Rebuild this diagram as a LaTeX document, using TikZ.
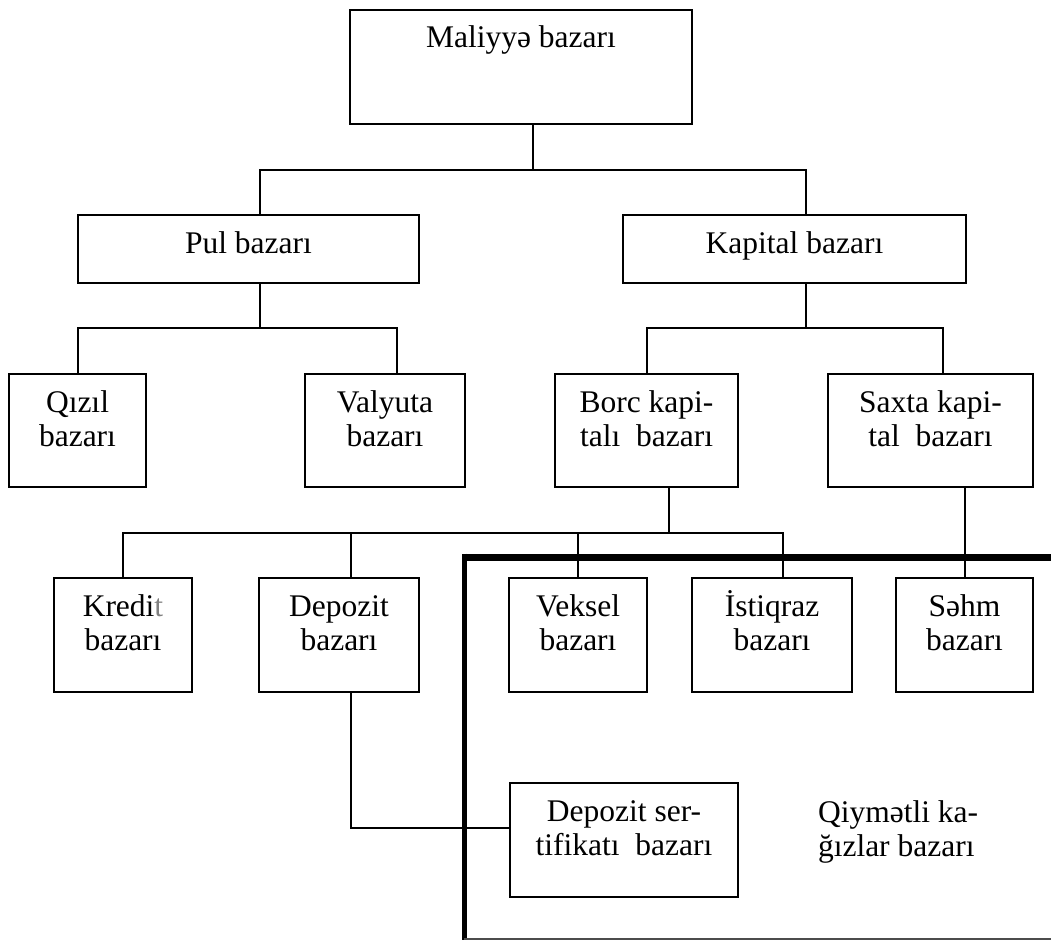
\documentclass[tikz,border=0pt]{standalone}
\usepackage{fontspec}
\setmainfont{Liberation Serif}
% fixed first-line height so every label hangs from the same point
\newcommand\capline{\rule{0pt}{30pt}}
\tikzset{
  box/.style={draw, line width=2pt, inner sep=0pt, outer sep=0pt},
  conn/.style={draw, line width=2pt},
  txt/.style={inner sep=0pt, outer sep=0pt, anchor=north, align=center,
              font=\fontsize{31.5pt}{34pt}\selectfont},
  frame/.style={draw, black},
}
\begin{document}
\begin{tikzpicture}[x=1pt,y=-1pt]
\useasboundingbox (0,0) rectangle (1051,940);

% ---- boxes ----
\node[box, minimum width=342pt, minimum height=114pt] (M) at (521,67) {};
\node[txt] (Mt) at ([yshift=-7pt]M.north) {\capline Maliyyə bazarı};

\node[box, minimum width=341pt, minimum height=68pt] (pul) at (248.5,249) {};
\node[txt] (pult) at ([yshift=-8pt]pul.north) {\capline Pul bazarı};
\node[box, minimum width=343pt, minimum height=68pt] (kap) at (794.5,249) {};
\node[txt] (kapt) at ([yshift=-8pt]kap.north) {\capline Kapital bazarı};

\node[box, minimum width=137pt, minimum height=113pt] (qiz) at (77.5,430.5) {};
\node[txt] (qizt) at ([yshift=-8pt]qiz.north) {\capline Qızıl\\bazarı};
\node[box, minimum width=160pt, minimum height=113pt] (val) at (385,430.5) {};
\node[txt] (valt) at ([yshift=-8pt]val.north) {\capline Valyuta\\bazarı};
\node[box, minimum width=183pt, minimum height=113pt] (borc) at (646.5,430.5) {};
\node[txt] (borct) at ([yshift=-8pt]borc.north) {\capline Borc kapi-\\talı~ bazarı};
\node[box, minimum width=205pt, minimum height=113pt] (sax) at (930.5,430.5) {};
\node[txt] (saxt) at ([yshift=-8pt]sax.north) {\capline Saxta kapi-\\tal~ bazarı};

\node[box, minimum width=138pt, minimum height=114pt] (kre) at (123,635) {};
\node[txt] (kret) at ([yshift=-8pt]kre.north) {\capline Kredi\textcolor{black!50}{t}\\bazarı};
\node[box, minimum width=160pt, minimum height=114pt] (dep) at (339,635) {};
\node[txt] (dept) at ([yshift=-8pt]dep.north) {\capline Depozit\\bazarı};
\node[box, minimum width=138pt, minimum height=114pt] (vek) at (578,635) {};
\node[txt] (vekt) at ([yshift=-8pt]vek.north) {\capline Veksel\\bazarı};
\node[box, minimum width=160pt, minimum height=114pt] (ist) at (772,635) {};
\node[txt] (istt) at ([yshift=-8pt]ist.north) {\capline İstiqraz\\bazarı};
\node[box, minimum width=137pt, minimum height=114pt] (sehm) at (964.5,635) {};
\node[txt] (sehmt) at ([yshift=-8pt]sehm.north) {\capline Səhm\\bazarı};

\node[box, minimum width=228pt, minimum height=114pt] (dsert) at (624,840) {};
\node[txt] (dsertt) at ([yshift=-8pt]dsert.north) {\capline Depozit ser-\\tifikatı~ bazarı};

\node[txt, anchor=north west, align=left] (qk) at (818,792) {\capline Qiymətli ka-\\ğızlar bazarı};

% ---- securities market frame ----
\draw[frame, line width=7pt] (462,557) -- (1051,557);
\draw[frame, line width=5pt] (464.5,553.5) -- (464.5,940);
\draw[frame, black!70, line width=2pt] (464,938.5) -- (1051,938.5);

% ---- junction points of the tree ----
\coordinate (busA) at (533,170);
\coordinate (busB) at (260,328);
\coordinate (busC) at (806,328);
\coordinate (busD) at (669,533);
\coordinate (depTop) at ([xshift=12pt]dep.north);

% ---- connectors ----
\draw[conn] (M.south -| busA) -- (busA);
\draw[conn] ([xshift=11.5pt]pul.north) |- (busA) -| ([xshift=11.5pt]kap.north);

\draw[conn] (pul.south -| busB) -- (busB);
\draw[conn] (qiz.north) |- (busB) -| ([xshift=12pt]val.north);

\draw[conn] (kap.south -| busC) -- (busC);
\draw[conn] (borc.north) |- (busC) -| ([xshift=12.5pt]sax.north);

\draw[conn] (borc.south -| busD) -- (busD);
\draw[conn] (kre.north) |- (busD) -| ([xshift=11pt]ist.north);
\draw[conn] (depTop) -- (depTop |- busD);
\draw[conn] (vek.north) -- (vek.north |- busD);

\draw[conn] (sehm.north) -- (sehm.north |- sax.south);

\draw[conn] ([xshift=12pt]dep.south) |- ([yshift=12pt]dsert.west);
\end{tikzpicture}
\end{document}
